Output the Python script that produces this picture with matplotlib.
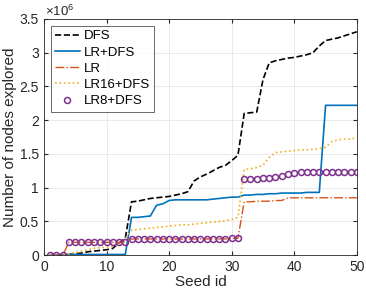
#!/usr/bin/env python3
import matplotlib
matplotlib.use("Agg")
import matplotlib.pyplot as plt
import numpy as np

plt.rcParams['font.family'] = ['Liberation Sans', 'DejaVu Sans']
plt.rcParams['mathtext.fontset'] = 'custom'
plt.rcParams['mathtext.rm'] = 'Liberation Sans'

# seed ids 1..50, values in units of 1e6 nodes
seed = list(range(1, 51))

dfs = [0.0, 0.0, 0.005, 0.01, 0.02, 0.03, 0.05, 0.06, 0.07, 0.08,
       0.1, 0.18, 0.25, 0.79, 0.8, 0.82, 0.84, 0.85, 0.86, 0.87,
       0.89, 0.91, 0.94, 1.1, 1.16, 1.2, 1.25, 1.3, 1.33, 1.4,
       1.48, 2.1, 2.11, 2.12, 2.6, 2.85, 2.88, 2.9, 2.92, 2.93,
       2.95, 2.97, 3.0, 3.1, 3.18, 3.2, 3.22, 3.25, 3.28, 3.31]

lr_dfs = [0.0, 0.0, 0.005, 0.01, 0.01, 0.01, 0.01, 0.01, 0.01, 0.01,
          0.01, 0.01, 0.01, 0.56, 0.56, 0.57, 0.58, 0.74, 0.76, 0.81,
          0.82, 0.82, 0.82, 0.82, 0.82, 0.82, 0.83, 0.84, 0.85, 0.86,
          0.86, 0.89, 0.89, 0.9, 0.9, 0.91, 0.91, 0.92, 0.92, 0.92,
          0.92, 0.93, 0.93, 0.93, 2.22, 2.22, 2.22, 2.22, 2.22, 2.22]

lr = [0.0, 0.0, 0.0, 0.19, 0.19, 0.19, 0.19, 0.19, 0.19, 0.19,
      0.19, 0.19, 0.2, 0.24, 0.24, 0.24, 0.24, 0.24, 0.24, 0.24,
      0.24, 0.24, 0.24, 0.24, 0.24, 0.24, 0.24, 0.24, 0.24, 0.25,
      0.25, 0.79, 0.79, 0.8, 0.8, 0.8, 0.81, 0.81, 0.85, 0.85,
      0.85, 0.85, 0.85, 0.85, 0.85, 0.85, 0.85, 0.85, 0.85, 0.85]

lr16_dfs = [0.0, 0.0, 0.0, 0.02, 0.04, 0.06, 0.08, 0.1, 0.11, 0.12,
            0.13, 0.15, 0.25, 0.37, 0.38, 0.39, 0.4, 0.41, 0.42, 0.43,
            0.44, 0.45, 0.45, 0.46, 0.47, 0.48, 0.49, 0.5, 0.51, 0.53,
            0.56, 1.27, 1.28, 1.3, 1.33, 1.45, 1.52, 1.53, 1.54, 1.55,
            1.56, 1.56, 1.57, 1.58, 1.6, 1.68, 1.71, 1.72, 1.72, 1.74]

lr8_dfs = [0.0, 0.0, 0.0, 0.19, 0.19, 0.19, 0.19, 0.19, 0.19, 0.19,
           0.19, 0.19, 0.2, 0.24, 0.24, 0.24, 0.24, 0.24, 0.24, 0.24,
           0.24, 0.24, 0.24, 0.24, 0.24, 0.24, 0.24, 0.24, 0.24, 0.25,
           0.25, 1.13, 1.13, 1.13, 1.14, 1.15, 1.16, 1.17, 1.2, 1.21,
           1.23, 1.23, 1.23, 1.23, 1.23, 1.23, 1.23, 1.23, 1.23, 1.23]

fig = plt.figure(figsize=(3.66, 2.96), dpi=100)
ax = fig.add_axes([0.12, 0.138, 0.855, 0.798])

ax.plot(seed, dfs, "--", color="black", lw=1.2, label="DFS")
ax.plot(seed, lr_dfs, "-", color="#0072BD", lw=1.2, label="LR+DFS")
ax.plot(seed, lr, "-.", color="#D95319", lw=1.0, label="LR")
ax.plot(seed, lr16_dfs, ":", color="#EDB120", lw=1.2, label="LR16+DFS")
ax.plot(seed, lr8_dfs, "o", color="#7E2F8E", mfc="none", ms=4.3, mew=1.1,
        label="LR8+DFS")

ax.set_xlim(0, 50)
ax.set_ylim(0, 3.5)
ax.set_xticks([0, 10, 20, 30, 40, 50])
ax.set_yticks([0, 0.5, 1, 1.5, 2, 2.5, 3, 3.5])
ax.set_yticklabels(["0", "0.5", "1", "1.5", "2", "2.5", "3", "3.5"])
ax.tick_params(direction="in", length=3, labelsize=10, top=True, right=True,
               color="#262626", labelcolor="#262626")
ax.grid(True, color="#e6e6e6", lw=0.6)
ax.set_axisbelow(True)
for s in ax.spines.values():
    s.set_color("#262626")
    s.set_linewidth(0.6)

ax.set_xlabel("Seed id", fontsize=11, color="#262626", labelpad=1)
ax.set_ylabel("Number of nodes explored", fontsize=11, color="#262626",
              labelpad=2)
ax.text(0.005, 0.999, r"$\times10^6$", transform=ax.transAxes, fontsize=9.5,
        color="#262626", va="bottom", ha="left")

leg = ax.legend(loc="upper left", fontsize=9.5, frameon=True, fancybox=False,
                edgecolor="#262626", borderpad=0.35, labelspacing=0.3,
                handlelength=1.85, handletextpad=0.3, borderaxespad=0.5)
leg.get_frame().set_linewidth(0.6)

fig.savefig("out.png", dpi=100)
